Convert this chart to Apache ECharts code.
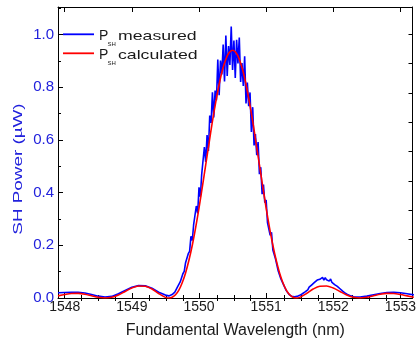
<!DOCTYPE html>
<html><head><meta charset="utf-8">
<script src="https://cdn.jsdelivr.net/npm/echarts@6/dist/echarts.min.js"></script>
<style>html,body{margin:0;padding:0;background:#fff}#c{width:419px;height:347px}</style>
</head><body><div id="c"></div>
<script>
// ---- tick labels ----
const xMajorTicks = [1548, 1549, 1550, 1551, 1552, 1553];
const xMinorTicks = [1548.25, 1548.5, 1548.75, 1549.25, 1549.5, 1549.75, 1550.25, 1550.5, 1550.75,
  1551.25, 1551.5, 1551.75, 1552.25, 1552.5, 1552.75];
const yMajorTicks = [0, 0.2, 0.4, 0.6, 0.8, 1.0];
const yMinorTicks = [0.1, 0.3, 0.5, 0.7, 0.9, 1.1];
const rightTicks = [1, 2, 3, 4, 5, 6, 7, 8, 9];

// ---- measured P_SH (blue) ----
const blueX = [
  1547.9, 1548.0, 1548.1, 1548.2, 1548.3, 1548.4, 1548.5, 1548.6, 1548.7, 1548.8, 1548.9,
  1549.0, 1549.1, 1549.2, 1549.3, 1549.4, 1549.5, 1549.55,
  1549.60, 1549.62, 1549.64, 1549.66, 1549.68, 1549.70, 1549.72, 1549.74, 1549.76, 1549.78,
  1549.80, 1549.82, 1549.84, 1549.86, 1549.88, 1549.90, 1549.92, 1549.94, 1549.96, 1549.98,
  1550.00, 1550.02, 1550.04, 1550.06, 1550.08, 1550.10, 1550.12, 1550.14, 1550.16, 1550.18,
  1550.20, 1550.22, 1550.24, 1550.26, 1550.28, 1550.30, 1550.32, 1550.34, 1550.36, 1550.38,
  1550.40, 1550.42, 1550.44, 1550.46, 1550.48, 1550.50, 1550.52, 1550.54, 1550.56, 1550.58,
  1550.60, 1550.62, 1550.64, 1550.66, 1550.68, 1550.70, 1550.72, 1550.74, 1550.76, 1550.78,
  1550.80, 1550.82, 1550.84, 1550.86, 1550.88, 1550.90, 1550.92, 1550.94, 1550.96, 1550.98,
  1551.00, 1551.02, 1551.04, 1551.06, 1551.08, 1551.10, 1551.12, 1551.14, 1551.16, 1551.18,
  1551.20, 1551.22, 1551.24, 1551.26, 1551.28, 1551.30, 1551.32, 1551.34, 1551.36, 1551.38,
  1551.40, 1551.42, 1551.44, 1551.46, 1551.48, 1551.50, 1551.52, 1551.54, 1551.56, 1551.58,
  1551.60, 1551.62, 1551.64, 1551.66, 1551.68, 1551.70, 1551.72, 1551.74, 1551.76, 1551.78,
  1551.80, 1551.82, 1551.84, 1551.86, 1551.88, 1551.90, 1551.92, 1551.94, 1551.96, 1551.98,
  1552.00, 1552.02, 1552.04, 1552.06, 1552.08, 1552.10, 1552.12, 1552.14, 1552.16, 1552.18,
  1552.20, 1552.22, 1552.24, 1552.26, 1552.28, 1552.30,
  1552.4, 1552.5, 1552.6, 1552.7, 1552.8, 1552.9, 1553.0, 1553.1, 1553.2
];
const blueY = [
  0.020, 0.021, 0.022, 0.022, 0.019, 0.013, 0.007, 0.004, 0.006, 0.016, 0.029,
  0.041, 0.047, 0.046, 0.037, 0.022, 0.011, 0.008,
  0.013, 0.015, 0.022, 0.029, 0.042, 0.045, 0.061, 0.065, 0.092, 0.101,
  0.134, 0.132, 0.168, 0.177, 0.234, 0.218, 0.278, 0.284, 0.349, 0.321,
  0.420, 0.384, 0.469, 0.464, 0.573, 0.516, 0.618, 0.558, 0.692, 0.664,
  0.780, 0.685, 0.787, 0.750, 0.905, 0.769, 0.901, 0.848, 0.962, 0.821,
  0.996, 0.842, 0.956, 0.884, 1.030, 0.865, 0.977, 0.835, 0.980, 0.890,
  0.988, 0.820, 0.891, 0.804, 0.917, 0.738, 0.817, 0.728, 0.780, 0.630,
  0.724, 0.579, 0.622, 0.542, 0.592, 0.470, 0.496, 0.394, 0.430, 0.362,
  0.372, 0.286, 0.287, 0.238, 0.249, 0.182, 0.184, 0.148, 0.142, 0.102,
  0.103, 0.072, 0.067, 0.050, 0.043, 0.028, 0.023, 0.014, 0.011, 0.006,
  0.006, 0.005, 0.005, 0.006, 0.008, 0.010, 0.013, 0.016, 0.021, 0.023,
  0.029, 0.031, 0.041, 0.040, 0.050, 0.047, 0.059, 0.058, 0.068, 0.062,
  0.071, 0.067, 0.078, 0.068, 0.077, 0.069, 0.075, 0.064, 0.072, 0.059,
  0.064, 0.051, 0.056, 0.044, 0.045, 0.035, 0.035, 0.026, 0.025, 0.018,
  0.017, 0.012, 0.010, 0.008, 0.006, 0.005,
  0.004, 0.007, 0.012, 0.017, 0.021, 0.022, 0.020, 0.016, 0.012
];

// ---- calculated P_SH (red) ----
const redX = [
  1547.9, 1548.0, 1548.1, 1548.2, 1548.3, 1548.4, 1548.5, 1548.6, 1548.7, 1548.8, 1548.9,
  1549.0, 1549.1, 1549.2, 1549.3, 1549.4, 1549.5,
  1549.55, 1549.60, 1549.65, 1549.70, 1549.75, 1549.80, 1549.85, 1549.90, 1549.95,
  1550.00, 1550.05, 1550.10, 1550.15, 1550.20, 1550.25, 1550.30, 1550.35, 1550.40, 1550.45,
  1550.50, 1550.55, 1550.60, 1550.65, 1550.70, 1550.75, 1550.80, 1550.85, 1550.90, 1550.95,
  1551.00, 1551.05, 1551.10, 1551.15, 1551.20, 1551.25, 1551.30, 1551.35, 1551.40, 1551.45,
  1551.5, 1551.6, 1551.7, 1551.8, 1551.9, 1552.0, 1552.1, 1552.2, 1552.3, 1552.4,
  1552.5, 1552.6, 1552.7, 1552.8, 1552.9, 1553.0, 1553.1, 1553.2
];
const redY = [
  0.008, 0.013, 0.017, 0.0175, 0.0145, 0.0085, 0.0027, 0.000, 0.003, 0.0118, 0.0248,
  0.0377, 0.0458, 0.0448, 0.0339, 0.0169, 0.0024,
  0.000, 0.003, 0.0125, 0.030, 0.058, 0.095, 0.143, 0.200, 0.267,
  0.341, 0.422, 0.505, 0.588, 0.670, 0.744, 0.811, 0.866, 0.906, 0.931,
  0.940, 0.931, 0.906, 0.866, 0.811, 0.744, 0.670, 0.588, 0.505, 0.422,
  0.341, 0.267, 0.200, 0.143, 0.095, 0.058, 0.030, 0.0125, 0.003, 0.000,
  0.0024, 0.0169, 0.0339, 0.0448, 0.0458, 0.0377, 0.0248, 0.0118, 0.003, 0.000,
  0.0027, 0.0085, 0.0145, 0.0175, 0.017, 0.013, 0.008, 0.003
];

const legendNames = ['measured', 'calculated'];
const BLUE = '#0000ff', RED = '#ff0000', LABEL_BLUE = '#2121dc', INK = '#1a1a1a';
const FONT = '"Liberation Sans", Arial, sans-serif';

const xRange = {min: 1547.9, max: 1553.18};
const yRange = {min: 0, max: 1.104};

function pairs(xs, ys) { return xs.map((x, i) => [x, ys[i]]); }

const chart = echarts.init(document.getElementById('c'), null, {renderer: 'canvas'});
const line = {show: true, onZero: false, lineStyle: {color: '#000', width: 1}};

chart.setOption({
  animation: false,
  backgroundColor: '#fff',
  grid: [
    {left: 58, right: 4, top: 7, bottom: 49, containLabel: false},
    {left: 58, right: 4, top: 7, bottom: 49, containLabel: false}
  ],
  xAxis: [
    {gridIndex: 0, type: 'value', position: 'bottom', ...xRange,
      axisLine: line,
      axisTick: {show: true, inside: true, length: 5, customValues: xMajorTicks, lineStyle: {color: '#000'}},
      axisLabel: {show: true, customValues: xMajorTicks, margin: 2, color: INK, fontSize: 14, fontFamily: FONT,
        formatter: v => String(Math.round(v))},
      splitLine: {show: false},
      name: 'Fundamental Wavelength (nm)', nameLocation: 'middle', nameGap: 25,
      nameTextStyle: {color: INK, fontSize: 16, fontFamily: FONT}},
    {gridIndex: 0, type: 'value', position: 'top', ...xRange,
      axisLine: line,
      axisTick: {show: true, inside: true, length: 5, customValues: xMajorTicks, lineStyle: {color: '#000'}},
      axisLabel: {show: false}, splitLine: {show: false}},
    {gridIndex: 1, type: 'value', position: 'bottom', ...xRange,
      axisLine: {show: false},
      axisTick: {show: true, inside: true, length: 3, customValues: xMinorTicks, lineStyle: {color: '#000'}},
      axisLabel: {show: false}, splitLine: {show: false}},
    {gridIndex: 1, type: 'value', position: 'top', ...xRange,
      axisLine: {show: false},
      axisTick: {show: true, inside: true, length: 3, customValues: xMinorTicks, lineStyle: {color: '#000'}},
      axisLabel: {show: false}, splitLine: {show: false}}
  ],
  yAxis: [
    {gridIndex: 0, type: 'value', position: 'left', ...yRange,
      axisLine: line,
      axisTick: {show: true, inside: true, length: 5, customValues: yMajorTicks, lineStyle: {color: '#000'}},
      axisLabel: {show: true, customValues: yMajorTicks, margin: 4, color: LABEL_BLUE, fontSize: 15, fontFamily: FONT,
        formatter: v => v.toFixed(1)},
      splitLine: {show: false}},
    {gridIndex: 0, type: 'value', position: 'right', min: 0, max: 9.93,
      axisLine: line,
      axisTick: {show: true, inside: true, length: 4, customValues: rightTicks, lineStyle: {color: '#000'}},
      axisLabel: {show: false}, splitLine: {show: false}},
    {gridIndex: 1, type: 'value', position: 'left', ...yRange,
      axisLine: {show: false},
      axisTick: {show: true, inside: true, length: 3, customValues: yMinorTicks, lineStyle: {color: '#000'}},
      axisLabel: {show: false}, splitLine: {show: false}},
    {gridIndex: 1, type: 'value', position: 'right', ...yRange, show: false}
  ],
  series: [
    {name: 'P_SH measured', type: 'line', xAxisIndex: 0, yAxisIndex: 0, data: pairs(blueX, blueY),
      showSymbol: false, symbol: 'none', lineStyle: {color: BLUE, width: 1.6}, z: 2},
    {name: 'P_SH calculated', type: 'line', xAxisIndex: 0, yAxisIndex: 0, data: pairs(redX, redY),
      showSymbol: false, symbol: 'none', smooth: 0.3, lineStyle: {color: RED, width: 1.6}, z: 3}
  ],
  graphic: [
    {type: 'text', x: 18, y: 169, rotation: Math.PI / 2, scaleX: 1.45,
      style: {text: 'SH Power (µW)', font: '13px ' + FONT, fill: LABEL_BLUE,
        align: 'center', verticalAlign: 'middle', textAlign: 'center', textVerticalAlign: 'middle'}},
    // legend row 1
    {type: 'line', shape: {x1: 63, y1: 34.3, x2: 94, y2: 34.3}, style: {stroke: BLUE, lineWidth: 1.8}},
    {type: 'text', x: 99, y: 36.2, style: {text: 'P', font: '14px ' + FONT, fill: INK,
      align: 'left', verticalAlign: 'middle', textAlign: 'left', textVerticalAlign: 'middle'}},
    {type: 'text', x: 107.5, y: 44.5, style: {text: 'SH', font: '6px ' + FONT, fill: INK,
      align: 'left', verticalAlign: 'middle', textAlign: 'left', textVerticalAlign: 'middle'}},
    {type: 'text', x: 118, y: 36.2, scaleX: 1.36, style: {text: legendNames[0], font: '13px ' + FONT, fill: INK,
      align: 'left', verticalAlign: 'middle', textAlign: 'left', textVerticalAlign: 'middle'}},
    // legend row 2
    {type: 'line', shape: {x1: 63, y1: 53.3, x2: 94, y2: 53.3}, style: {stroke: RED, lineWidth: 1.8}},
    {type: 'text', x: 99, y: 55.2, style: {text: 'P', font: '14px ' + FONT, fill: INK,
      align: 'left', verticalAlign: 'middle', textAlign: 'left', textVerticalAlign: 'middle'}},
    {type: 'text', x: 107.5, y: 63.5, style: {text: 'SH', font: '6px ' + FONT, fill: INK,
      align: 'left', verticalAlign: 'middle', textAlign: 'left', textVerticalAlign: 'middle'}},
    {type: 'text', x: 118, y: 55.2, scaleX: 1.36, style: {text: legendNames[1], font: '13px ' + FONT, fill: INK,
      align: 'left', verticalAlign: 'middle', textAlign: 'left', textVerticalAlign: 'middle'}}
  ]
});
</script>
</body></html>
